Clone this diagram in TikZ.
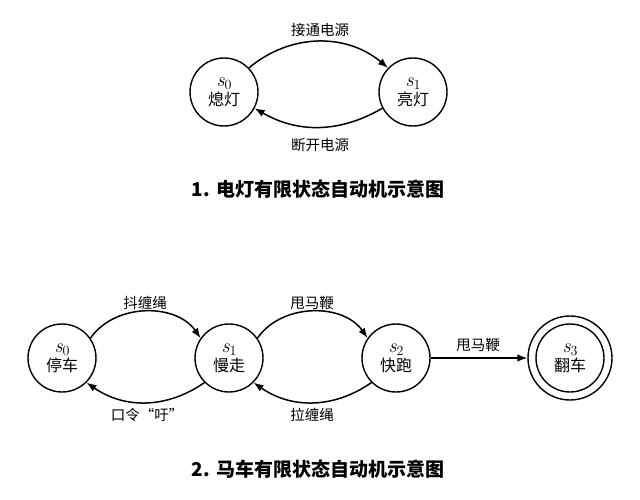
\documentclass[tikz,border=0pt]{standalone}
\usepackage{fontspec}
\setmainfont{Noto Sans CJK SC}
\newfontfamily\lmr{Latin Modern Roman}
\usetikzlibrary{arrows.meta}
\newcommand{\stlabel}[2]{{\lmr\fontsize{20}{20}\selectfont\itshape s\raisebox{-3.5pt}{\upshape\fontsize{14}{14}\selectfont #1}}\\[1pt]#2}
\begin{document}
\begin{tikzpicture}[x=1pt,y=-1pt,
  state/.style={circle,draw,line width=1.4pt,minimum size=68pt,inner sep=0pt,align=center,font=\fontsize{16}{18}\selectfont},
  outerring/.style={circle,draw,line width=1.4pt,minimum size=84pt,inner sep=0pt},
  conn/.style={line width=1.5pt,-{Latex[length=10pt,width=7.5pt]}},
  lbl/.style={font=\fontsize{14.5}{16}\selectfont,inner sep=0pt},
  ttl/.style={font=\fontsize{19}{22}\selectfont\bfseries,inner sep=0pt}]
\useasboundingbox (0,0) rectangle (640,500);
% diagram 1
\node[state] (a0) at (224,92) {\stlabel{0}{熄灯}};
\node[state] (a1) at (413,92) {\stlabel{1}{亮灯}};
\draw[conn] (a0.44) to[out=40,in=140] (a1.136);
\draw[conn] (a1.-152) to[out=-150,in=-30] (a0.-28);
\node[lbl] (la1) at (320,30) {接通电源};
\node[lbl] (la2) at (320,145) {断开电源};
\node[ttl] (t1) at (318,189) {1. 电灯有限状态自动机示意图};
% diagram 2
\node[state] (b0) at (62,358) {\stlabel{0}{停车}};
\node[state] (b1) at (229,358) {\stlabel{1}{慢走}};
\node[state] (b2) at (396,358) {\stlabel{2}{快跑}};
\node[state] (b3) at (570,358) {\stlabel{3}{翻车}};
\node[outerring] (b3o) at (570,358) {};
\draw[conn] (b0.35) to[out=55,in=125] (b1.145);
\draw[conn] (b1.-135) to[out=-145,in=-35] (b0.-45);
\draw[conn] (b1.35) to[out=55,in=125] (b2.145);
\draw[conn] (b2.-135) to[out=-145,in=-35] (b1.-45);
\draw[conn] (b2.east) -- (b3o.west);
\node[lbl] (lb1) at (145,303) {抖缠绳};
\node[lbl] (lb2) at (147,415) {口令“吁”};
\node[lbl] (lb3) at (312,303) {甩马鞭};
\node[lbl] (lb4) at (312,415) {拉缠绳};
\node[lbl] (lb5) at (478,345) {甩马鞭};
\node[ttl] (t2) at (318,469) {2. 马车有限状态自动机示意图};
\end{tikzpicture}
\end{document}
